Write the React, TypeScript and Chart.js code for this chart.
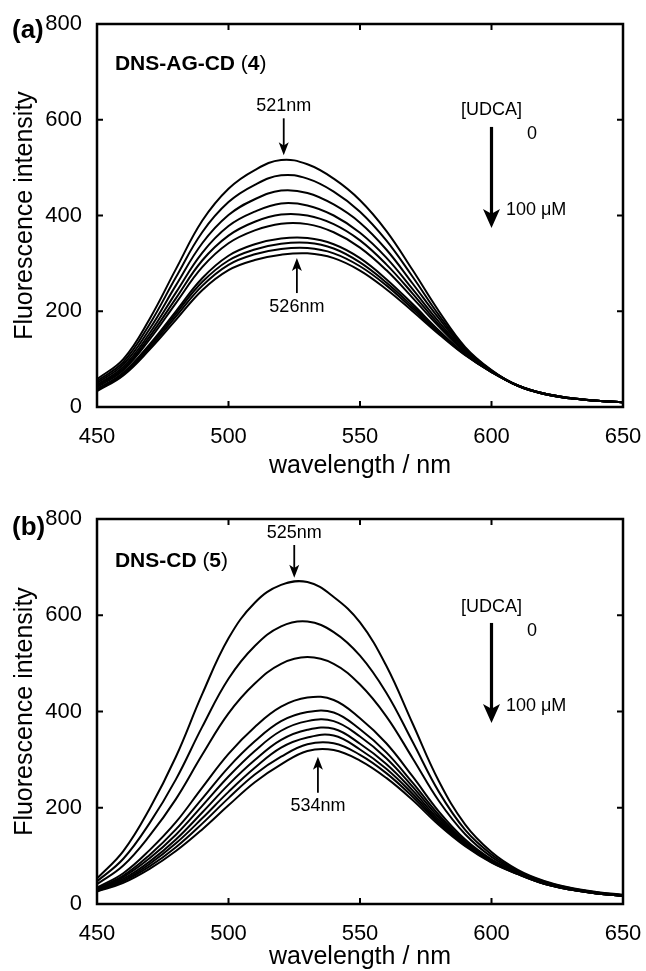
import React, { useEffect, useRef } from "react";
import { Chart, registerables } from "chart.js";

Chart.register(...registerables);

// ---------------- data ----------------
const wavelengths = [450, 460, 470, 480, 490, 500, 510, 520, 530, 540, 550, 560, 570, 580, 590, 600, 610, 620, 630, 640, 650];
const xTicks = [450, 500, 550, 600, 650];
const yTicks = [0, 200, 400, 600, 800];

// Panel (a): DNS-AG-CD (4), [UDCA] 0 -> 100 uM
const a01 = [58, 100, 184, 288, 389, 456, 495, 516, 507, 477, 432, 368, 286, 200, 125, 77, 44, 27, 18, 13, 10];
const a02 = [54, 94, 173, 271, 365, 428, 464, 484, 477, 450, 408, 348, 272, 192, 122, 76, 44, 27, 18, 13, 10];
const a03 = [50, 89, 163, 254, 342, 401, 434, 452, 447, 423, 385, 329, 258, 185, 120, 76, 44, 27, 18, 13, 10];
const a04 = [46, 84, 154, 239, 322, 378, 408, 425, 421, 400, 364, 312, 246, 178, 117, 75, 44, 27, 18, 13, 10];
const a05 = [44, 80, 147, 227, 306, 358, 387, 402, 400, 382, 348, 298, 237, 172, 115, 75, 45, 27, 18, 13, 10];
const a06 = [41, 77, 141, 217, 292, 342, 369, 383, 382, 365, 333, 286, 228, 168, 114, 74, 45, 28, 18, 13, 10];
const a07 = [37, 72, 131, 200, 269, 316, 340, 352, 353, 340, 311, 267, 215, 160, 111, 74, 45, 28, 19, 13, 10];
const a08 = [36, 70, 128, 195, 261, 306, 329, 341, 343, 331, 302, 260, 210, 158, 110, 73, 45, 28, 19, 13, 10];
const a09 = [35, 68, 124, 189, 253, 297, 319, 330, 332, 321, 294, 254, 205, 155, 109, 73, 45, 28, 19, 13, 10];
const a10 = [33, 66, 120, 182, 244, 286, 307, 318, 321, 311, 285, 246, 200, 152, 108, 73, 45, 28, 19, 13, 10];
const panelASeries = [a01, a02, a03, a04, a05, a06, a07, a08, a09, a10];

// Panel (b): DNS-CD (5), [UDCA] 0 -> 100 uM
const b01 = [53, 110, 198, 306, 436, 552, 626, 663, 669, 638, 585, 495, 375, 255, 165, 108, 71, 48, 34, 25, 19];
const b02 = [47, 94, 168, 259, 368, 468, 536, 577, 587, 565, 516, 439, 337, 233, 154, 103, 69, 47, 33, 24, 18];
const b03 = [41, 80, 142, 218, 310, 396, 458, 499, 513, 499, 456, 390, 303, 214, 145, 98, 67, 45, 32, 24, 18];
const b04 = [34, 64, 112, 170, 242, 312, 368, 410, 429, 424, 386, 334, 265, 192, 134, 93, 65, 44, 31, 23, 18];
const b05 = [32, 59, 102, 155, 219, 284, 338, 380, 399, 398, 363, 315, 252, 185, 130, 91, 64, 43, 31, 23, 17];
const b06 = [31, 56, 95, 144, 204, 265, 318, 360, 380, 380, 348, 303, 244, 180, 128, 90, 64, 43, 31, 22, 17];
const b07 = [29, 52, 88, 134, 190, 248, 299, 341, 362, 364, 333, 291, 236, 175, 126, 89, 63, 43, 30, 22, 17];
const b08 = [28, 49, 83, 126, 178, 233, 283, 325, 346, 350, 321, 281, 229, 171, 124, 88, 63, 42, 30, 22, 17];
const b09 = [27, 47, 78, 118, 167, 220, 269, 306, 332, 334, 310, 272, 223, 168, 122, 87, 62, 42, 30, 22, 17];
const b10 = [26, 44, 73, 110, 155, 205, 253, 290, 318, 320, 298, 262, 216, 164, 120, 86, 62, 42, 30, 22, 17];
const panelBSeries = [b01, b02, b03, b04, b05, b06, b07, b08, b09, b10];

// peak labels
const peakTopA = { text: "521nm", nm: 521 };
const peakBottomA = { text: "526nm", nm: 526 };
const peakTopB = { text: "525nm", nm: 525 };
const peakBottomB = { text: "534nm", nm: 534 };

// ---------------- styling / layout ----------------
const FONT = "'Liberation Sans', Arial, Helvetica, sans-serif";

type PanelCfg = {
  tag: string;
  nameBold: string;
  num: string;
  series: number[][];
  height: number;
  padTop: number;
  xAxisHeight: number;
  xTitlePad: number;
  tagBaseline: number;
  nameAt: [number, number];
  topPeak: { text: string; nm: number };
  bottomPeak: { text: string; nm: number };
  topLabelY: number;
  topArrow: [number, number];
  bottomLabelY: number;
  bottomArrow: [number, number];
  udca: { labelY: number; arrowFrom: number; arrowTo: number; zeroY: number; endY: number };
};

const panelA: PanelCfg = {
  tag: "(a)",
  nameBold: "DNS-AG-CD ",
  num: "4",
  series: panelASeries,
  height: 480,
  padTop: 24,
  xAxisHeight: 73,
  xTitlePad: 1.5,
  tagBaseline: 38,
  nameAt: [456.8, 704],
  topPeak: peakTopA,
  bottomPeak: peakBottomA,
  topLabelY: 628,
  topArrow: [603, 526],
  bottomLabelY: 209,
  bottomArrow: [238, 311],
  udca: { labelY: 620, arrowFrom: 585, arrowTo: 374, zeroY: 570, endY: 411 },
};

const panelB: PanelCfg = {
  tag: "(b)",
  nameBold: "DNS-CD ",
  num: "5",
  series: panelBSeries,
  height: 491,
  padTop: 39,
  xAxisHeight: 67,
  xTitlePad: 1,
  tagBaseline: 55,
  nameAt: [456.8, 700],
  topPeak: peakTopB,
  bottomPeak: peakBottomB,
  topLabelY: 771,
  topArrow: [746, 678],
  bottomLabelY: 204,
  bottomArrow: [231, 306],
  udca: { labelY: 617, arrowFrom: 584, arrowTo: 376, zeroY: 568, endY: 412 },
};

function drawArrow(ctx: CanvasRenderingContext2D, x: number, y0: number, y1: number, lw: number, headW: number, headH: number) {
  const dir = y1 > y0 ? 1 : -1;
  ctx.beginPath();
  ctx.lineWidth = lw;
  ctx.moveTo(x, y0);
  ctx.lineTo(x, y1 - dir * headH * 0.6);
  ctx.stroke();
  ctx.beginPath();
  ctx.moveTo(x, y1);
  ctx.lineTo(x - headW / 2, y1 - dir * headH);
  ctx.lineTo(x, y1 - dir * headH * 0.75);
  ctx.lineTo(x + headW / 2, y1 - dir * headH);
  ctx.closePath();
  ctx.fill();
}

function makeOverlay(cfg: PanelCfg) {
  return {
    id: "overlay",
    afterDatasetsDraw(chart: any) {
      const { ctx, chartArea } = chart;
      const { left, top, right, bottom } = chartArea;
      const xs = chart.scales.x;
      const ys = chart.scales.y;
      ctx.save();
      ctx.strokeStyle = "#000";
      ctx.fillStyle = "#000";
      ctx.lineWidth = 2.5;
      ctx.strokeRect(left, top, right - left, bottom - top);
      ctx.lineWidth = 2;
      const tl = 6;
      xTicks.forEach((v) => {
        if (v === xs.min || v === xs.max) return;
        const px = xs.getPixelForValue(v);
        ctx.beginPath();
        ctx.moveTo(px, bottom);
        ctx.lineTo(px, bottom - tl);
        ctx.moveTo(px, top);
        ctx.lineTo(px, top + tl);
        ctx.stroke();
      });
      yTicks.forEach((v) => {
        if (v === ys.min || v === ys.max) return;
        const py = ys.getPixelForValue(v);
        ctx.beginPath();
        ctx.moveTo(left, py);
        ctx.lineTo(left + tl, py);
        ctx.moveTo(right, py);
        ctx.lineTo(right - tl, py);
        ctx.stroke();
      });

      ctx.textBaseline = "alphabetic";
      ctx.textAlign = "left";
      ctx.font = `bold 26px ${FONT}`;
      ctx.fillText(cfg.tag, 12, cfg.tagBaseline);

      let nx = xs.getPixelForValue(cfg.nameAt[0]);
      const ny = ys.getPixelForValue(cfg.nameAt[1]);
      const parts: [string, boolean][] = [
        [cfg.nameBold, true],
        ["(", false],
        [cfg.num, true],
        [")", false],
      ];
      parts.forEach(([t, b]) => {
        ctx.font = `${b ? "bold " : ""}21px ${FONT}`;
        ctx.fillText(t, nx, ny);
        nx += ctx.measureText(t).width;
      });

      ctx.font = `18px ${FONT}`;
      ctx.textAlign = "center";
      ctx.textBaseline = "middle";
      const tx = xs.getPixelForValue(cfg.topPeak.nm);
      ctx.fillText(cfg.topPeak.text, tx, ys.getPixelForValue(cfg.topLabelY));
      drawArrow(ctx, tx, ys.getPixelForValue(cfg.topArrow[0]), ys.getPixelForValue(cfg.topArrow[1]), 1.8, 10, 13);
      const bx = xs.getPixelForValue(cfg.bottomPeak.nm);
      ctx.fillText(cfg.bottomPeak.text, bx, ys.getPixelForValue(cfg.bottomLabelY));
      drawArrow(ctx, bx, ys.getPixelForValue(cfg.bottomArrow[0]), ys.getPixelForValue(cfg.bottomArrow[1]), 1.8, 10, 13);

      const ux = xs.getPixelForValue(600);
      ctx.fillText("[UDCA]", ux, ys.getPixelForValue(cfg.udca.labelY));
      drawArrow(ctx, ux, ys.getPixelForValue(cfg.udca.arrowFrom), ys.getPixelForValue(cfg.udca.arrowTo), 3.2, 17, 19);
      ctx.fillText("0", xs.getPixelForValue(615.4), ys.getPixelForValue(cfg.udca.zeroY));
      ctx.textAlign = "left";
      ctx.fillText("100 \u03bcM", xs.getPixelForValue(605.5), ys.getPixelForValue(cfg.udca.endY));
      ctx.restore();
    },
  };
}

function buildChart(canvas: HTMLCanvasElement, cfg: PanelCfg) {
  const datasets = cfg.series.map((s) => ({
    data: s.map((v, i) => ({ x: wavelengths[i], y: v })),
    borderColor: "#000",
    borderWidth: 2,
    pointRadius: 0,
    fill: false,
    tension: 0.4,
  }));
  return new Chart(canvas, {
    type: "line",
    data: { datasets },
    options: {
      animation: false,
      responsive: false,
      devicePixelRatio: 1,
      layout: { padding: { top: cfg.padTop, right: 23, left: 0, bottom: 0 } },
      plugins: { legend: { display: false }, tooltip: { enabled: false } },
      scales: {
        x: {
          type: "linear",
          min: 450,
          max: 650,
          afterBuildTicks: (s: any) => {
            s.ticks = xTicks.map((v) => ({ value: v }));
          },
          ticks: { padding: 0, color: "#000", font: { family: FONT, size: 22 }, maxRotation: 0 },
          grid: { display: false, drawTicks: true, tickLength: 17 },
          border: { display: false },
          title: {
            display: true,
            text: "wavelength / nm",
            color: "#000",
            font: { family: FONT, size: 25, lineHeight: 1 },
            padding: { top: 0, bottom: cfg.xTitlePad },
          },
          afterFit: (s: any) => {
            s.height = cfg.xAxisHeight;
            s.paddingLeft = Math.min(s.paddingLeft, 20);
            s.paddingRight = Math.min(s.paddingRight, 20);
          },
        },
        y: {
          type: "linear",
          min: 0,
          max: 800,
          afterBuildTicks: (s: any) => {
            s.ticks = yTicks.map((v) => ({ value: v }));
          },
          ticks: { padding: 0, color: "#000", font: { family: FONT, size: 22 } },
          grid: { display: false, drawTicks: true, tickLength: 15 },
          border: { display: false },
          title: {
            display: true,
            text: "Fluorescence intensity",
            color: "#000",
            font: { family: FONT, size: 25, lineHeight: 1 },
            padding: { top: 13, bottom: 0 },
          },
          afterFit: (s: any) => {
            s.width = 97;
            s.paddingTop = Math.min(s.paddingTop, 14);
            s.paddingBottom = Math.min(s.paddingBottom, 14);
          },
        },
      },
    },
    plugins: [makeOverlay(cfg)],
  } as any);
}

function Panel({ cfg, top }: { cfg: PanelCfg; top: number }) {
  const ref = useRef<HTMLCanvasElement>(null);
  useEffect(() => {
    if (!ref.current) return;
    const chart = buildChart(ref.current, cfg);
    return () => chart.destroy();
  }, [cfg]);
  return (
    <canvas
      ref={ref}
      width={646}
      height={cfg.height}
      style={{ position: "absolute", left: 0, top, width: 646, height: cfg.height, display: "block" }}
    />
  );
}

export default function App() {
  return (
    <div style={{ position: "absolute", left: 0, top: 0, width: 646, height: 971, background: "#fff", overflow: "hidden" }}>
      <Panel cfg={panelA} top={0} />
      <Panel cfg={panelB} top={480} />
    </div>
  );
}
